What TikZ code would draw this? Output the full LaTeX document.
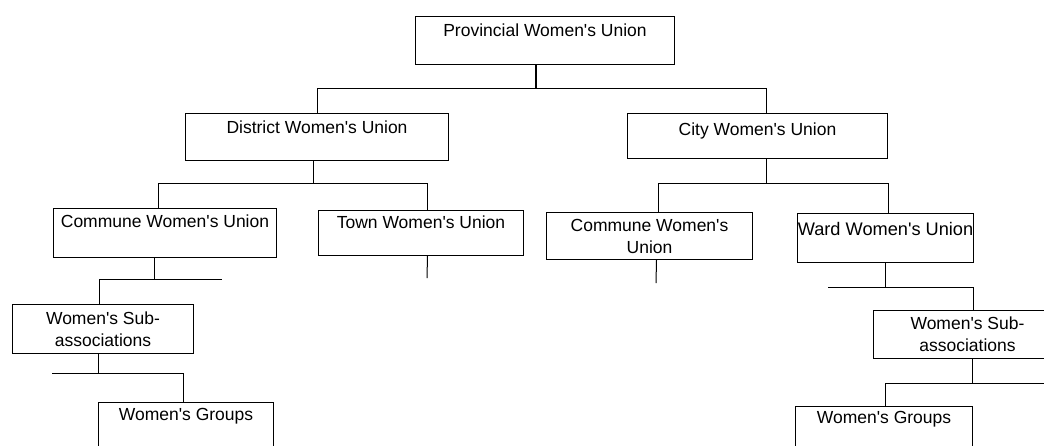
\documentclass[tikz,border=0pt]{standalone}
\usepackage{fontspec}
\setmainfont{Liberation Sans}[Ligatures=TeXOff]
\begin{document}
\begin{tikzpicture}[x=1pt, y=-1pt,
  box/.style={draw, line width=1pt, anchor=north west, inner sep=0pt,
    align=center, font=\fontsize{17.5}{22}\selectfont},
  link/.style={draw, line width=1pt}]
\useasboundingbox (0,0) rectangle (1044,445);
\clip (0,0) rectangle (1044,445);

% organisation boxes
\node[box, minimum width=259pt, text height=20pt, text depth=28pt] (prov) at (415,16) {Provincial Women's Union};
\node[box, minimum width=263pt, text height=20pt, text depth=27pt] (dist) at (185,113) {District Women's Union};
\node[box, minimum width=260pt, text height=22pt, text depth=23pt] (city) at (627,113) {City Women's Union};
\node[box, minimum width=223pt, text height=19pt, text depth=30pt] (comL) at (53,208) {Commune Women's Union};
\node[box, minimum width=205pt, text height=18pt, text depth=27pt] (town) at (318,210) {Town Women's Union};
\node[box, minimum width=206pt, minimum height=47pt] (comR) at (546,212) {Commune Women's\\Union};
\node[box, minimum width=176pt, text height=22pt, text depth=27pt, font=\fontsize{18.2}{22}\selectfont] (ward) at (797,213) {Ward Women's Union};
\node[box, minimum width=181pt, minimum height=49pt] (subL) at (12,304) {Women's Sub-\\associations};
\node[box, minimum width=188pt, minimum height=48pt] (subR) at (873,310) {Women's Sub-\\associations};
\node[box, minimum width=175pt, text height=18pt, text depth=52pt] (grpL) at (98,402) {Women's Groups};
\node[box, minimum width=177pt, text height=17pt, text depth=52pt] (grpR) at (795,406) {Women's Groups};

% free ends of the dangling lines
\coordinate (e1) at (222,279);
\coordinate (e2) at (828,287);
\coordinate (e3) at (52,373);
\coordinate (e4) at (1044,383);
\coordinate (t1) at (427,278);
\coordinate (t2) at (656,283);

% provincial level
\draw[link, line width=2pt] ([xshift=-9.5]prov.south) -- ++(0,24);
\draw[link] ([xshift=0.5]dist.north) -- ++(0,-25) -| ([xshift=9]city.north);

% district branch
\draw[link] ([xshift=-3.5]dist.south) -- ++(0,23);
\draw[link] ([xshift=-6.5]comL.north) -- ++(0,-25) -| ([xshift=6.5]town.north);
\draw[link] ([xshift=-10.5]comL.south) -- ++(0,22);
\draw[link] ([xshift=-3.5]subL.north) |- (e1);
\draw[link] ([xshift=6.5]town.south) -- (t1);
\draw[link] ([xshift=-4.5]subL.south) -- ++(0,20);
\draw[link] ([xshift=-2.5]grpL.north) |- (e3);

% city branch
\draw[link] ([xshift=9]city.south) -- ++(0,25);
\draw[link] ([xshift=9]comR.north) -- ++(0,-29) -| ([xshift=3]ward.north);
\draw[link] ([xshift=7]comR.south) -- (t2);
\draw[link] (ward.south) -- ++(0,25);
\draw[link] ([xshift=6]subR.north) |- (e2);
\draw[link] ([xshift=5]subR.south) -- ++(0,25);
\draw[link] ([xshift=1.5]grpR.north) |- (e4);
\end{tikzpicture}
\end{document}
